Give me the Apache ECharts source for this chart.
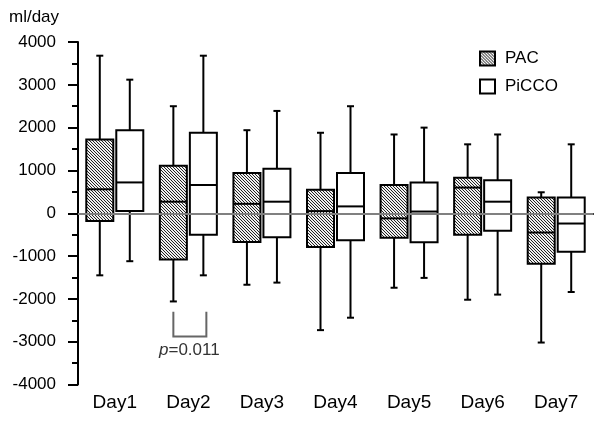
<!DOCTYPE html>
<html>
<head>
<meta charset="utf-8">
<script src="https://cdn.jsdelivr.net/npm/echarts@6/dist/echarts.min.js"></script>
<style>html,body{margin:0;padding:0;background:#fff;}#c{width:600px;height:425px;}</style>
</head>
<body>
<div id="c"></div>
<script>
// ---- data ----
const days = ['Day1','Day2','Day3','Day4','Day5','Day6','Day7'];
// [low whisker, Q1, median, Q3, high whisker]
const pac = [
  [-1450, -180, 560, 1720, 3680],
  [-2060, -1080, 270, 1110, 2500],
  [-1670, -670, 220, 940, 1940],
  [-2730, -790, 50, 550, 1880],
  [-1740, -570, -120, 660, 1840],
  [-2020, -500, 600, 830, 1610],
  [-3020, -1180, -450, 370, 490]
];
const picco = [
  [-1120, 50, 720, 1940, 3120],
  [-1450, -500, 660, 1880, 3680],
  [-1620, -560, 270, 1040, 2390],
  [-2440, -630, 160, 940, 2500],
  [-1510, -680, 40, 720, 2000],
  [-1900, -410, 270, 770, 1840],
  [-1840, -900, -240, 370, 1610]
];
const yTicks = {min: -4000, max: 4000, interval: 1000};
const pBracket = {day: 'Day2', top: -2300, bottom: -2880, textAt: -3190, label: 'p=0.011'};

// ---- hatch pattern (pixel based, diagonal "\" lines) ----
function hatch() {
  const s = 6, p = 3;
  const cv = document.createElement('canvas');
  cv.width = s; cv.height = s;
  const ctx = cv.getContext('2d');
  const img = ctx.createImageData(s, s);
  for (let y = 0; y < s; y++) {
    for (let x = 0; x < s; x++) {
      const i = (y * s + x) * 4;
      const dark = ((x - y) % p + p) % p === 0;
      const v = dark ? 35 : 240;
      img.data[i] = v; img.data[i + 1] = v; img.data[i + 2] = v; img.data[i + 3] = 255;
    }
  }
  ctx.putImageData(img, 0, 0);
  return cv;
}
const hatchFill = {image: hatch(), repeat: 'repeat'};

function makeRender(offset, fill) {
  return function (params, api) {
    const idx = api.value(0);
    const px = function (v) { return api.coord([idx, v]); };
    const x = px(0)[0] + offset;
    const yLow = px(api.value(1))[1];
    const yQ1 = px(api.value(2))[1];
    const yMed = px(api.value(3))[1];
    const yQ3 = px(api.value(4))[1];
    const yHigh = px(api.value(5))[1];
    const hw = 13.5, cap = 3.5;
    const ls = {stroke: '#000', lineWidth: 2};
    return {
      type: 'group',
      children: [
        {type: 'line', shape: {x1: x, y1: yHigh, x2: x, y2: yQ3}, style: ls},
        {type: 'line', shape: {x1: x, y1: yQ1, x2: x, y2: yLow}, style: ls},
        {type: 'line', shape: {x1: x - cap, y1: yHigh, x2: x + cap, y2: yHigh}, style: ls},
        {type: 'line', shape: {x1: x - cap, y1: yLow, x2: x + cap, y2: yLow}, style: ls},
        {type: 'rect', shape: {x: x - hw, y: yQ3, width: hw * 2, height: yQ1 - yQ3},
          style: {fill: fill, stroke: '#000', lineWidth: 2}},
        {type: 'line', shape: {x1: x - hw, y1: yMed, x2: x + hw, y2: yMed}, style: ls}
      ]
    };
  };
}

function toData(arr) {
  return arr.map(function (r, i) { return [i].concat(r); });
}

const chart = echarts.init(document.getElementById('c'), null, {renderer: 'canvas'});
const font = 'Liberation Sans';
chart.setOption({
  animation: false,
  backgroundColor: '#fff',
  textStyle: {fontFamily: font},
  title: {
    text: 'ml/day', left: 9, top: 9, padding: [0, 0, 0, 0],
    textStyle: {fontSize: 17, fontWeight: 'normal', color: '#000', fontFamily: font}
  },
  legend: {
    orient: 'vertical', left: 479, top: 50, padding: 0,
    itemWidth: 15, itemHeight: 14, itemGap: 11,
    textStyle: {fontSize: 17, color: '#000', fontFamily: font, padding: [0, 0, 0, 5]},
    data: [
      {name: 'PAC', icon: 'rect', itemStyle: {color: hatchFill, borderColor: '#000', borderWidth: 2}},
      {name: 'PiCCO', icon: 'rect', itemStyle: {color: '#fff', borderColor: '#000', borderWidth: 2}}
    ]
  },
  grid: {left: 78, right: 7, top: 42, bottom: 40.5, containLabel: false},
  xAxis: {
    type: 'category', data: days, boundaryGap: true,
    axisLine: {lineStyle: {color: '#000', width: 2}},
    axisTick: {alignWithLabel: true, length: 5, lineStyle: {color: '#000', width: 2}},
    axisLabel: {fontSize: 19, color: '#000', margin: 9, fontFamily: font},
    splitLine: {show: false}
  },
  yAxis: {
    type: 'value', min: yTicks.min, max: yTicks.max, interval: yTicks.interval,
    axisLine: {show: true, lineStyle: {color: '#000', width: 2}},
    axisTick: {show: true, length: 10, lineStyle: {color: '#000', width: 2}},
    minorTick: {show: true, splitNumber: 2, length: 6, lineStyle: {color: '#000', width: 2}},
    axisLabel: {fontSize: 17, color: '#000', margin: 22, fontFamily: font,
      formatter: function (v) { return String(v); }},
    splitLine: {show: false}
  },
  series: [
    {
      name: 'zero', type: 'line', data: [], silent: true,
      markLine: {
        silent: true, symbol: 'none', label: {show: false},
        lineStyle: {color: '#808080', width: 2, type: 'solid'},
        data: [{yAxis: 0}]
      }
    },
    {
      name: 'PAC', type: 'custom', renderItem: makeRender(-15, hatchFill),
      itemStyle: {color: hatchFill, borderColor: '#000', borderWidth: 2},
      encode: {x: 0, y: [1, 2, 3, 4, 5]}, data: toData(pac), z: 3
    },
    {
      name: 'PiCCO', type: 'custom', renderItem: makeRender(15, '#fff'),
      itemStyle: {color: '#fff', borderColor: '#000', borderWidth: 2},
      encode: {x: 0, y: [1, 2, 3, 4, 5]}, data: toData(picco), z: 3
    },
    {
      name: 'pvalue', type: 'custom', silent: true, z: 4,
      encode: {x: 0, y: [1, 2, 3]},
      data: [[days.indexOf(pBracket.day), pBracket.top, pBracket.bottom, pBracket.textAt]],
      renderItem: function (params, api) {
        const idx = api.value(0);
        const c = api.coord([idx, 0])[0];
        const yT = api.coord([idx, api.value(1)])[1];
        const yB = api.coord([idx, api.value(2)])[1];
        const yTx = api.coord([idx, api.value(3)])[1];
        const x1 = c - 15, x2 = c + 18;
        return {
          type: 'group',
          children: [
            {type: 'polyline', shape: {points: [[x1, yT], [x1, yB], [x2, yB], [x2, yT]]},
              style: {stroke: '#666', lineWidth: 2, fill: 'none'}},
            {type: 'text', x: c + 1, y: yTx,
              style: {
                text: '{i|p}=0.011', align: 'center', verticalAlign: 'middle',
                fontSize: 17, fontFamily: font, fill: '#333',
                rich: {i: {fontStyle: 'italic', fontSize: 17, fontFamily: font, fill: '#333'}}
              }}
          ]
        };
      }
    }
  ]
});
</script>
</body>
</html>
